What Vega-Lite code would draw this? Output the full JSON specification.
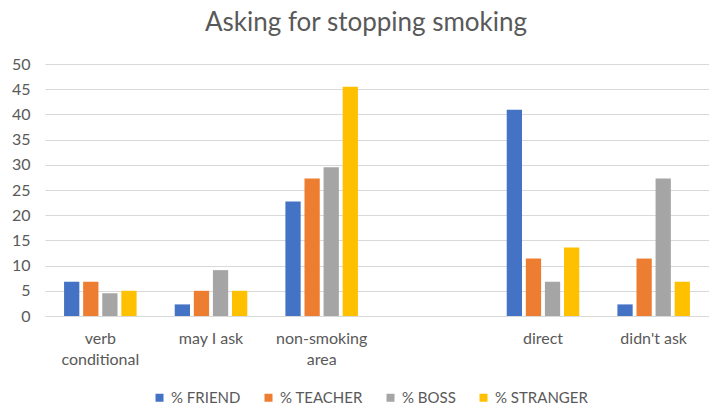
{
  "$schema": "https://vega.github.io/schema/vega-lite/v6.json",
  "width": 664,
  "height": 252,
  "autosize": {"type": "none"},
  "padding": {"left": 45, "top": 64, "right": 0, "bottom": 92},
  "background": "white",
  "title": {
    "text": "Asking for stopping smoking",
    "font": "Lato",
    "fontSize": 26,
    "fontWeight": "normal",
    "color": "#595959",
    "anchor": "middle",
    "frame": "group",
    "dx": -11,
    "offset": 20
  },
  "config": {
    "view": {"stroke": null},
    "font": "Lato"
  },
  "data": {
    "values": [
      {"category": "verb conditional", "series": "% FRIEND", "value": 6.8},
      {"category": "verb conditional", "series": "% TEACHER", "value": 6.8},
      {"category": "verb conditional", "series": "% BOSS", "value": 4.5},
      {"category": "verb conditional", "series": "% STRANGER", "value": 5.0},
      {"category": "may I ask", "series": "% FRIEND", "value": 2.3},
      {"category": "may I ask", "series": "% TEACHER", "value": 5.0},
      {"category": "may I ask", "series": "% BOSS", "value": 9.1},
      {"category": "may I ask", "series": "% STRANGER", "value": 5.0},
      {"category": "non-smoking area", "series": "% FRIEND", "value": 22.7},
      {"category": "non-smoking area", "series": "% TEACHER", "value": 27.3},
      {"category": "non-smoking area", "series": "% BOSS", "value": 29.5},
      {"category": "non-smoking area", "series": "% STRANGER", "value": 45.5},
      {"category": "direct", "series": "% FRIEND", "value": 40.9},
      {"category": "direct", "series": "% TEACHER", "value": 11.4},
      {"category": "direct", "series": "% BOSS", "value": 6.8},
      {"category": "direct", "series": "% STRANGER", "value": 13.6},
      {"category": "didn't ask", "series": "% FRIEND", "value": 2.3},
      {"category": "didn't ask", "series": "% TEACHER", "value": 11.4},
      {"category": "didn't ask", "series": "% BOSS", "value": 27.3},
      {"category": "didn't ask", "series": "% STRANGER", "value": 6.8}
    ]
  },
  "mark": {"type": "bar"},
  "encoding": {
    "x": {
      "field": "category",
      "type": "nominal",
      "sort": null,
      "scale": {
        "domain": ["verb conditional", "may I ask", "non-smoking area", " ", "direct", "didn't ask"],
        "paddingInner": 0.31,
        "paddingOuter": 0.155
      },
      "axis": {
        "title": null,
        "labelAngle": 0,
        "labelFontSize": 16,
        "labelColor": "#595959",
        "labelPadding": 14,
        "ticks": false,
        "tickSize": 0,
        "domainColor": "#d9d9d9",
        "domainWidth": 1,
        "labelLineHeight": 21,
        "labelExpr": "datum.value == 'verb conditional' ? ['verb', 'conditional'] : datum.value == 'non-smoking area' ? ['non-smoking', 'area'] : datum.value"
      }
    },
    "xOffset": {
      "field": "series",
      "type": "nominal",
      "sort": ["% FRIEND", "% TEACHER", "% BOSS", "% STRANGER"],
      "scale": {"paddingInner": 0.2, "paddingOuter": 0.1}
    },
    "y": {
      "field": "value",
      "type": "quantitative",
      "scale": {"domain": [0, 50], "nice": false},
      "axis": {
        "title": null,
        "values": [0, 5, 10, 15, 20, 25, 30, 35, 40, 45, 50],
        "labelFontSize": 16,
        "labelColor": "#595959",
        "labelPadding": 15,
        "ticks": false,
        "tickSize": 0,
        "domain": false,
        "gridColor": "#d9d9d9",
        "gridWidth": 1
      }
    },
    "color": {
      "field": "series",
      "type": "nominal",
      "sort": ["% FRIEND", "% TEACHER", "% BOSS", "% STRANGER"],
      "scale": {
        "domain": ["% FRIEND", "% TEACHER", "% BOSS", "% STRANGER"],
        "range": ["#4472C4", "#ED7D31", "#A5A5A5", "#FFC000"]
      },
      "legend": {
        "title": null,
        "orient": "none",
        "direction": "horizontal",
        "legendX": 107,
        "legendY": 326,
        "symbolType": "square",
        "symbolSize": 64,
        "symbolStrokeWidth": 0,
        "labelFontSize": 15,
        "labelColor": "#595959",
        "columnPadding": 20,
        "labelOffset": 4
      }
    }
  }
}
